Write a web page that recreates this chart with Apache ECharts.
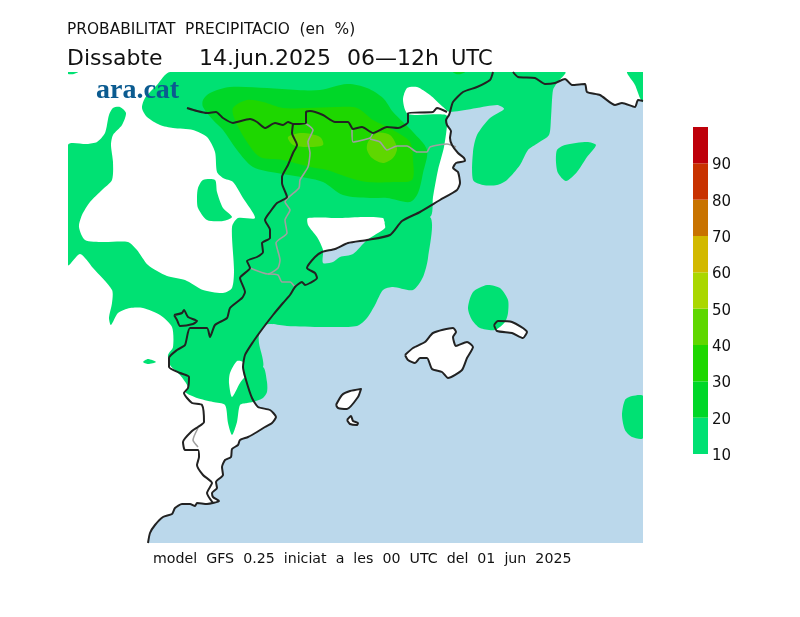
<!DOCTYPE html>
<html>
<head>
<meta charset="utf-8">
<title>Probabilitat precipitacio</title>
<script src="https://cdn.jsdelivr.net/npm/echarts@6/dist/echarts.min.js"></script>
<style>
    html, body { margin: 0; padding: 0; background: #fff; }
    #chart { width: 800px; height: 617px; }
</style>
</head>
<body>
<div id="chart"></div>
<script>
// all map values are [easting, northing] in map units
const coastSpain = [[80,0],[82,10],[87,18],[95,26],[104,29],[107,35],[114,39],[122,39],[127,37],[129,40],[139,39],[151,42],[145,46],[144,50],[149,55],[148,61],[155,68],[154,76],[157,83],[163,86],[164,94],[170,98],[172,103],[180,106],[189,111],[197,116],[204,120],[208,126],[202,133],[190,136],[184,145],[178,163],[175,176],[177,188],[185,201],[195,215],[205,228],[215,240],[222,248],[227,256],[234,261],[237,258],[242,260],[249,265],[247,270],[239,275],[247,286],[254,291],[267,294],[280,300],[299,303],[322,308],[334,322],[352,331],[372,343],[389,353],[392,360],[390,371],[385,375],[388,380],[397,382],[396,385],[390,390],[384,398],[382,405],[383,412],[379,418],[378,423],[381,428],[382,431],[385,441],[395,451],[409,456],[422,463],[425,471]];
const coastFrance = [[445,471],[450,466],[467,465],[477,459],[487,460],[497,464],[504,458],[517,459],[519,451],[532,448],[547,438],[554,440],[567,436],[570,443],[575,442]];
const seaCorners = [[575,0],[80,0]];

const mallorca = [[337,188],[345,195],[357,201],[365,210],[385,215],[388,211],[385,206],[388,197],[399,201],[405,196],[399,185],[394,173],[380,165],[374,171],[364,174],[359,185],[352,185],[347,180],[340,183],[337,188]];
const menorca = [[426,218],[430,222],[444,221],[459,211],[455,205],[444,210],[429,212],[426,218]];
const eivissa = [[268,138],[274,148],[282,152],[293,154],[290,146],[279,134],[270,135],[268,138]];
const formentera = [[279,123],[283,127],[285,122],[290,120],[289,118],[282,119],[279,123]];
const rincon = [[106,228],[114,230],[116,233],[120,226],[129,222],[125,219],[112,217],[109,223],[106,228]];

const borderPyrenees = [[119,435],[129,432],[139,430],[148,431],[155,425],[165,420],[169,421],[182,424],[189,421],[197,415],[207,420],[215,418],[220,421],[225,419],[238,420],[238,431],[242,432],[255,428],[267,421],[280,421],[285,414],[294,416],[305,410],[319,416],[330,415],[340,421],[340,430],[365,431],[369,435],[379,431]];
const borderWest = [[225,419],[224,410],[229,398],[225,390],[220,378],[214,366],[214,360],[219,346],[209,340],[202,331],[197,323],[202,313],[202,305],[194,300],[195,291],[189,286],[179,282],[182,275],[172,265],[177,251],[174,245],[162,235],[159,225],[147,218],[142,206],[139,215],[122,215],[117,198],[109,193],[101,185],[101,176],[112,170],[121,166],[120,155],[116,150],[124,140],[134,138],[136,121],[130,116],[124,112],[115,101],[117,93],[130,93],[131,86],[129,78],[135,68],[144,60],[139,50],[145,40]];

const grayAragon = [[237,420],[245,413],[240,401],[242,390],[240,376],[232,363],[231,355],[217,341],[222,333],[217,323],[219,310],[208,300],[212,283],[210,275],[200,269],[182,275]];
const grayEbre = [[200,269],[210,268],[214,261],[222,261],[227,256]];
const grayAndorra = [[284,413],[285,401],[302,405],[305,410]];
const grayGirona = [[302,404],[312,401],[319,393],[329,397],[339,397],[349,391],[359,391],[362,396],[379,399],[388,396]];
const grayMurcia = [[130,115],[125,103],[130,96]];

// 10 % contour: goes in and out of the two holes along a zero width cut
const rain10Main = [[0,398],[19,399],[29,401],[37,410],[41,428],[45,435],[52,436],[58,430],[54,418],[45,408],[43,398],[45,381],[44,363],[34,353],[22,341],[14,328],[11,316],[17,303],[35,301],[60,301],[69,293],[80,278],[99,267],[117,263],[135,253],[155,250],[164,255],[166,273],[164,316],[170,325],[187,325],[175,345],[165,361],[155,365],[149,371],[147,391],[139,406],[125,413],[105,415],[92,418],[79,426],[74,435],[77,445],[89,458],[102,471],[497,471],[489,460],[485,453],[483,425],[481,408],[470,400],[460,393],[452,378],[439,363],[429,358],[415,358],[405,363],[405,391],[409,408],[422,425],[436,434],[429,438],[382,431],[375,436],[362,448],[349,456],[339,455],[335,443],[340,429],[378,428],[379,418],[376,396],[370,373],[365,346],[362,326],
    [317,321],[315,325],[295,326],[272,325],[240,325],[240,318],[249,306],[255,293],[255,280],[265,281],[272,286],[285,289],[299,303],[317,315],[317,321],[362,326],
    [360,285],[355,266],[345,253],[325,256],[315,253],[307,238],[299,225],[289,217],[255,216],[219,217],[204,219],[197,218],[191,208],[191,200],[195,176],
    [177,166],[175,173],[175,181],[169,182],[162,170],[161,160],[164,146],[172,160],[177,166],[195,176],
    [199,161],[199,151],[195,145],[185,141],[179,140],[172,138],[169,121],[164,108],[160,120],[157,138],[145,141],[129,145],[117,151],[120,156],[112,168],[102,178],[100,188],[105,196],[104,216],[92,228],[75,235],[62,235],[50,230],[43,218],[41,225],[44,240],[44,253],[25,275],[12,289],[0,278]];
const rain10Blob = [[130,355],[135,363],[147,363],[149,351],[155,335],[164,326],[155,322],[139,323],[130,335],[129,346]];
const rain10CornerNW = [[0,471],[10,471],[6,469],[0,469]];
const rain10Speck = [[75,181],[80,184],[88,181],[80,179]];
const rain10Gulf = [[489,393],[497,398],[519,401],[528,398],[519,386],[509,371],[498,362],[490,370],[488,381]];
const rain10CornerNE = [[559,471],[567,458],[572,445],[575,441],[575,471]];
const rain10Menorca = [[400,235],[405,251],[419,258],[432,255],[440,243],[440,230],[437,221],[427,213],[412,215],[404,223]];
const rain10East = [[575,147],[564,147],[557,143],[554,128],[557,113],[564,106],[575,105]];

const rain20Main = [[135,443],[142,450],[162,456],[199,455],[229,453],[252,453],[279,459],[299,455],[315,445],[325,431],[335,421],[345,411],[359,393],[355,370],[350,350],[342,341],[319,345],[302,345],[275,348],[255,361],[239,365],[209,370],[185,376],[169,393],[155,413],[145,423],[135,436]];
const rain20Top = [[385,471],[397,471],[393,469],[388,469]];
const rain30Main = [[165,435],[179,443],[195,441],[215,435],[239,435],[269,436],[289,435],[305,423],[325,413],[342,401],[345,383],[344,363],[325,361],[299,361],[279,366],[259,373],[242,376],[215,383],[192,386],[179,401],[167,423]];
const rain40West = [[220,406],[234,410],[252,406],[255,398],[239,396],[225,398]];
const rain40East = [[300,401],[309,410],[322,408],[329,395],[325,385],[315,380],[304,385],[299,393]];

const scaleLevels = [10, 20, 30, 40, 50, 60, 70, 80, 90, 100];
const scaleColors = ['#00e173', '#00d728', '#1ed700', '#5fd700', '#aad700', '#d2b900', '#c87300', '#c83200', '#be000a'];
const seaColor = '#bbd8eb';

const titleTop = 'PROBABILITAT  PRECIPITACIO  (en  %)';
const titleDay = 'Dissabte';
const titleDate = '14.jun.2025';
const titleHours = '06—12h';
const titleZone = 'UTC';
const titleModel = 'model  GFS  0.25  iniciat  a  les  00  UTC  del  01  jun  2025';
const logoText = 'ara.cat';

function fillSeries(polys, color, z, smooth) {
    return {
        type: 'custom',
        xAxisIndex: 0,
        yAxisIndex: 0,
        z: z,
        clip: true,
        silent: true,
        data: polys.map(function (p, i) { return [i, 0]; }),
        renderItem: function (params, api) {
            let pts = polys[params.dataIndex].map(function (p) { return api.coord(p); });
            return { type: 'polygon', shape: { points: pts, smooth: smooth }, style: { fill: color } };
        }
    };
}

function lineSeries(points, color, width, z) {
    return {
        type: 'line',
        xAxisIndex: 0,
        yAxisIndex: 0,
        z: z,
        data: points,
        symbol: 'none',
        silent: true,
        smooth: 0.2,
        lineStyle: { color: color, width: width, join: 'round' }
    };
}

function textItem(text, left, top, font, color) {
    return { type: 'text', left: left, top: top, z: 20, style: { text: text, font: font, fill: color } };
}

let series = [
    fillSeries([coastSpain.concat(coastFrance, seaCorners)], seaColor, 1, 0),
    fillSeries([mallorca, menorca, eivissa, formentera], '#fff', 2, 0),
    fillSeries([rain10Main, rain10Blob, rain10CornerNW, rain10Speck, rain10Gulf, rain10CornerNE, rain10Menorca, rain10East], scaleColors[0], 3, 0.25),
    fillSeries([rain20Main, rain20Top], scaleColors[1], 4, 0.3),
    fillSeries([rain30Main], scaleColors[2], 5, 0.3),
    fillSeries([rain40West, rain40East], scaleColors[3], 6, 0.3)
];
[grayAragon, grayEbre, grayAndorra, grayGirona, grayMurcia].forEach(function (l) {
    series.push(lineSeries(l, '#a0a0a0', 1.6, 7));
});
[coastSpain, coastFrance, mallorca, menorca, eivissa, formentera, rincon, borderPyrenees, borderWest].forEach(function (l) {
    series.push(lineSeries(l, '#222', 2, 8));
});

// colour scale
series.push({
    type: 'custom',
    xAxisIndex: 1,
    yAxisIndex: 1,
    z: 3,
    silent: true,
    data: scaleColors.map(function (c, i) { return [i, scaleLevels[i], scaleLevels[i + 1]]; }),
    renderItem: function (params, api) {
        let a = api.coord([0, api.value(1)]);
        let b = api.coord([1, api.value(2)]);
        return {
            type: 'rect',
            shape: { x: a[0], y: b[1], width: b[0] - a[0], height: a[1] - b[1] },
            style: { fill: scaleColors[params.dataIndex] }
        };
    }
});

let myChart = echarts.init(document.getElementById('chart'));
myChart.setOption({
    animation: false,
    backgroundColor: '#fff',
    grid: [
        { left: 68, top: 72, width: 575, height: 471 },
        { left: 693, top: 127, width: 15, height: 327 }
    ],
    xAxis: [
        { type: 'value', gridIndex: 0, min: 0, max: 575, show: false },
        { type: 'value', gridIndex: 1, min: 0, max: 1, show: false }
    ],
    yAxis: [
        { type: 'value', gridIndex: 0, min: 0, max: 471, show: false },
        {
            type: 'value', gridIndex: 1, min: 10, max: 100, interval: 10, position: 'right',
            axisLine: { show: false }, axisTick: { show: false }, splitLine: { show: false },
            axisLabel: {
                margin: 4, color: '#111', fontSize: 15, fontFamily: 'DejaVu Sans', lineHeight: 4, verticalAlign: 'top',
                formatter: function (v) { return v == 100 ? '' : v; }
            }
        }
    ],
    graphic: [
        textItem(titleTop, 67, 22, '15.4px "DejaVu Sans"', '#111'),
        textItem(titleDay, 67, 48, '22px "DejaVu Sans"', '#111'),
        textItem(titleDate, 199, 48, '22px "DejaVu Sans"', '#111'),
        textItem(titleHours, 347, 48, '22px "DejaVu Sans"', '#111'),
        textItem(titleZone, 451, 49, '21px "DejaVu Sans"', '#111'),
        textItem(titleModel, 153, 552, '14.2px "DejaVu Sans"', '#111'),
        textItem(logoText, 96, 77, 'bold 28px "Liberation Serif"', '#0b5b90')
    ],
    series: series
});
</script>
</body>
</html>
